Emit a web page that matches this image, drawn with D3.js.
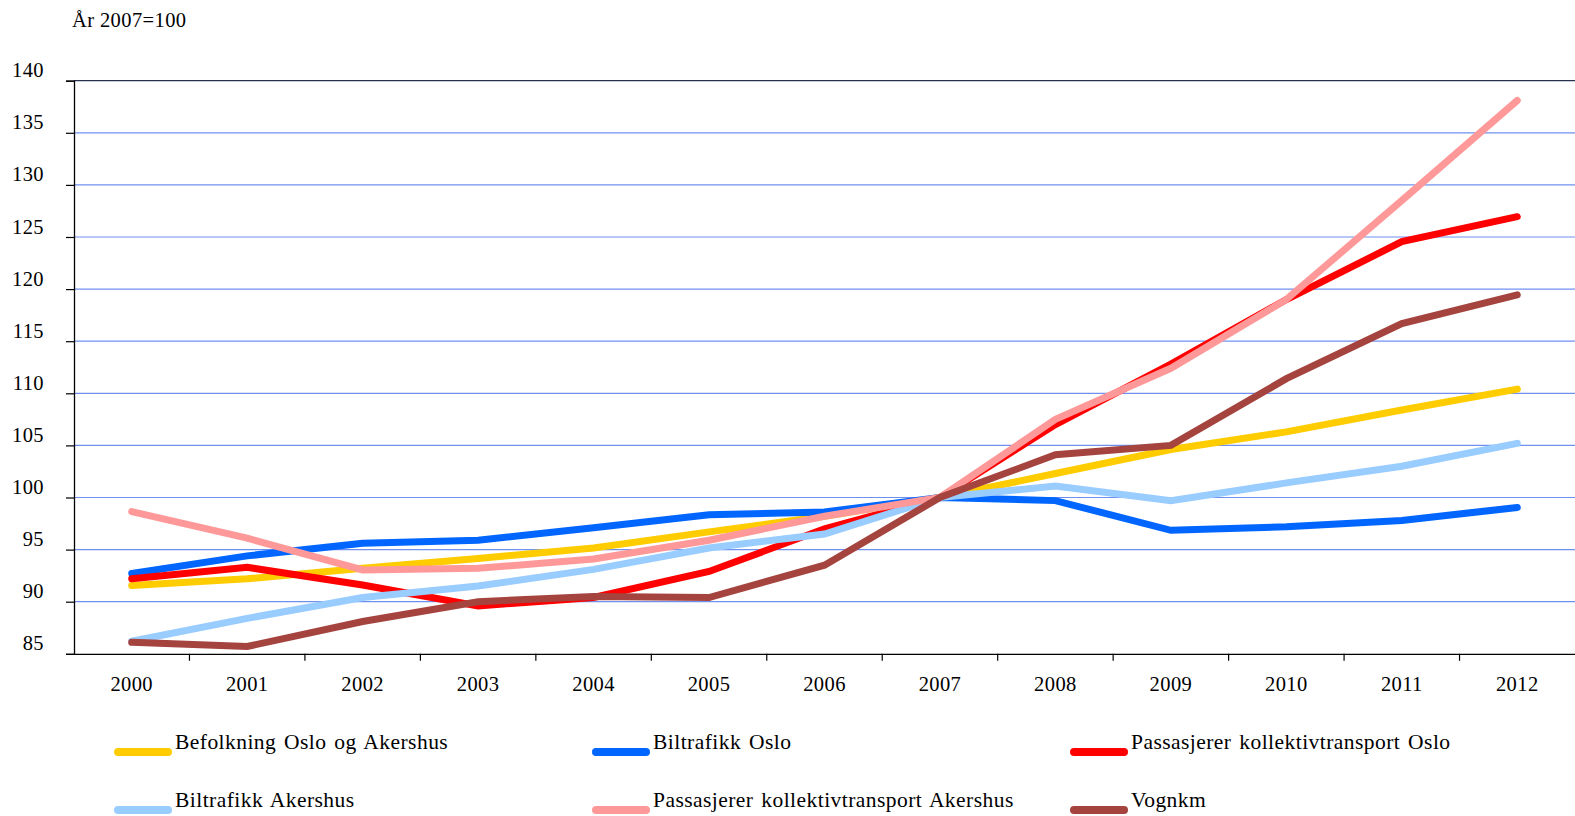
<!DOCTYPE html>
<html>
<head>
<meta charset="utf-8">
<script src="https://cdn.jsdelivr.net/npm/d3@7"></script>
<style>
  body { margin: 0; background: #fff; }
  svg { display: block; }
  text { font-family: "Liberation Serif", "DejaVu Serif", serif; fill: #000; }
</style>
</head>
<body>
<svg id="chart" width="1575" height="816"></svg>
<script>
// index 2007 = 100, Oslo og Akershus
const years = ["2000","2001","2002","2003","2004","2005","2006","2007","2008","2009","2010","2011","2012"];
const yTicks = [85, 90, 95, 100, 105, 110, 115, 120, 125, 130, 135, 140];

const befolkning         = [91.55, 92.2, 93.2, 94.15, 95.15, 96.7, 98.2, 100, 102.3, 104.6, 106.3, 108.4, 110.4];
const biltrafikkOslo     = [92.7, 94.4, 95.6, 95.9, 97.1, 98.35, 98.6, 100, 99.7, 96.85, 97.2, 97.8, 99.05];
const passasjererOslo    = [92.2, 93.3, 91.6, 89.6, 90.4, 92.9, 97.0, 100, 107.0, 112.8, 119.0, 124.55, 126.95];
const biltrafikkAkershus = [86.2, 88.4, 90.4, 91.5, 93.1, 95.15, 96.5, 100, 101.1, 99.7, 101.4, 103.0, 105.2];
const passasjererAkershus= [98.65, 96.1, 93.05, 93.2, 94.1, 95.9, 98.2, 100, 107.5, 112.4, 119.0, 128.5, 138.1];
const vognkm             = [86.1, 85.7, 88.1, 90.0, 90.5, 90.4, 93.5, 100, 104.1, 105.0, 111.4, 116.7, 119.45];

const seriesNames = ["Befolkning Oslo og Akershus", "Biltrafikk Oslo", "Passasjerer kollektivtransport Oslo",
                     "Biltrafikk Akershus", "Passasjerer kollektivtransport Akershus", "Vognkm"];
const seriesValues = [befolkning, biltrafikkOslo, passasjererOslo, biltrafikkAkershus, passasjererAkershus, vognkm];
const seriesColors = ["#ffcc00", "#0066ff", "#ff0000", "#99ccff", "#ff9999", "#a5433f"];

const plotLeft = 74, plotRight = 1575, plotTop = 80.7, plotBottom = 653.8;

const svg = d3.select("#chart");

const x = d3.scaleBand().domain(years).range([plotLeft, plotRight]).padding(0);
const y = d3.scaleLinear().domain([85, 140]).range([plotBottom, plotTop]);

// title
svg.append("text")
    .attr("x", 72).attr("y", 27)
    .style("font-size", "20.5px")
    .style("letter-spacing", "0.4px")
    .text("År 2007=100");

// gridlines
svg.append("g")
  .selectAll("line")
  .data(yTicks.filter(d => d !== 85 && d !== 140))
  .enter().append("line")
    .attr("x1", plotLeft).attr("x2", plotRight)
    .attr("y1", d => y(d)).attr("y2", d => y(d))
    .attr("stroke", "#7090f0")
    .attr("stroke-width", 1.2);

// top border of plot
svg.append("line")
    .attr("x1", plotLeft).attr("x2", plotRight)
    .attr("y1", y(140)).attr("y2", y(140))
    .attr("stroke", "#26314f")
    .attr("stroke-width", 1.3);

// y axis
const yAxis = d3.axisLeft(y).tickValues(yTicks).tickSize(8).tickFormat("");
const gy = svg.append("g").attr("transform", `translate(${plotLeft},0)`).call(yAxis);
gy.select(".domain").attr("stroke", "#000").attr("stroke-width", 1.3);
gy.selectAll(".tick line").attr("stroke", "#000").attr("stroke-width", 1.2);

svg.append("g")
  .selectAll("text")
  .data(yTicks)
  .enter().append("text")
    .attr("x", 44)
    .attr("y", d => y(d) - 3.5)
    .attr("text-anchor", "end")
    .style("font-size", "20.5px")
    .style("letter-spacing", "0.4px")
    .text(d => d);

// x axis
const xAxis = d3.axisBottom(x).tickSize(0).tickFormat("");
const gx = svg.append("g").attr("transform", `translate(0,${plotBottom})`).call(xAxis);
gx.select(".domain").attr("stroke", "#000").attr("stroke-width", 1.3);

svg.append("g")
  .selectAll("line")
  .data(years.slice(1))
  .enter().append("line")
    .attr("x1", d => x(d)).attr("x2", d => x(d))
    .attr("y1", plotBottom).attr("y2", plotBottom + 7)
    .attr("stroke", "#000")
    .attr("stroke-width", 1.2);

svg.append("g")
  .selectAll("text")
  .data(years)
  .enter().append("text")
    .attr("x", d => x(d) + x.bandwidth() / 2)
    .attr("y", 691)
    .attr("text-anchor", "middle")
    .style("font-size", "20.5px")
    .style("letter-spacing", "0.4px")
    .text(d => d);

// lines
const line = d3.line()
    .x((d, i) => x(years[i]) + x.bandwidth() / 2)
    .y(d => y(d));

svg.append("g")
  .selectAll("path")
  .data(seriesValues)
  .enter().append("path")
    .attr("d", d => line(d))
    .attr("fill", "none")
    .attr("stroke", (d, i) => seriesColors[i])
    .attr("stroke-width", 7)
    .attr("stroke-linecap", "round")
    .attr("stroke-linejoin", "miter");

// legend, 3 columns x 2 rows
const legendX = [114, 592, 1070];
const legendY = [752, 810];

const legend = svg.append("g")
  .selectAll("g")
  .data(seriesNames)
  .enter().append("g")
    .attr("transform", (d, i) => `translate(${legendX[i % 3]},${legendY[Math.floor(i / 3)]})`);

legend.append("line")
    .attr("x1", 4).attr("x2", 54)
    .attr("y1", 0).attr("y2", 0)
    .attr("stroke", (d, i) => seriesColors[i])
    .attr("stroke-width", 8)
    .attr("stroke-linecap", "round");

legend.append("text")
    .attr("x", 61)
    .attr("y", -3)
    .style("font-size", "21.5px")
    .style("letter-spacing", "0.45px")
    .style("word-spacing", "2px")
    .text(d => d);
</script>
</body>
</html>
